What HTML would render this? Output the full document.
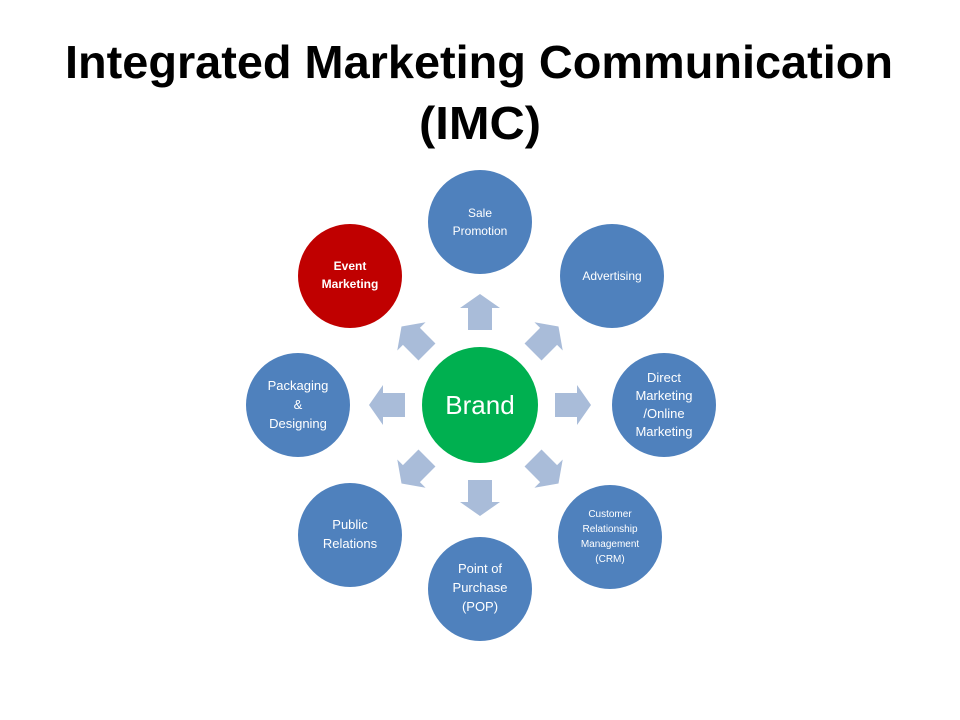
<!DOCTYPE html>
<html><head><meta charset="utf-8"><style>
html,body{margin:0;padding:0;background:#fff;}
svg{display:block;}
text{font-family:"Liberation Sans",sans-serif;}
</style></head><body>
<svg width="960" height="720" viewBox="0 0 960 720" xmlns="http://www.w3.org/2000/svg">
<text x="479" y="78" text-anchor="middle" font-size="46" font-weight="bold" fill="#000" textLength="828" lengthAdjust="spacingAndGlyphs">Integrated Marketing Communication</text>
<text x="480" y="139" text-anchor="middle" font-size="46" font-weight="bold" fill="#000" textLength="122" lengthAdjust="spacingAndGlyphs">(IMC)</text>
<defs>
<polygon id="ar" points="75,-12 97,-12 97,-20 111,0 97,20 97,12 75,12" fill="#a9bcd9"/>
</defs>
<g transform="translate(480,405)">
<use href="#ar" transform="rotate(-90)"/>
<use href="#ar" transform="rotate(-45)"/>
<use href="#ar" transform="rotate(0)"/>
<use href="#ar" transform="rotate(45)"/>
<use href="#ar" transform="rotate(90)"/>
<use href="#ar" transform="rotate(135)"/>
<use href="#ar" transform="rotate(180)"/>
<use href="#ar" transform="rotate(225)"/>
</g>
<circle cx="480" cy="405" r="58" fill="#00b050"/>
<text x="480" y="414" text-anchor="middle" font-size="26" fill="#fff">Brand</text>
<g fill="#4f81bd">
<circle cx="480" cy="222" r="52"/>
<circle cx="612" cy="276" r="52"/>
<circle cx="664" cy="405" r="52"/>
<circle cx="610" cy="537" r="52"/>
<circle cx="480" cy="589" r="52"/>
<circle cx="350" cy="535" r="52"/>
<circle cx="298" cy="405" r="52"/>
</g>
<circle cx="350" cy="276" r="52" fill="#c00000"/>
<g fill="#fff" text-anchor="middle">
<text x="480" y="217" font-size="12">Sale</text>
<text x="480" y="235" font-size="12">Promotion</text>
<text x="612" y="280" font-size="12">Advertising</text>
<text x="664" y="382" font-size="13">Direct</text>
<text x="664" y="400" font-size="13">Marketing</text>
<text x="664" y="418" font-size="13">/Online</text>
<text x="664" y="436" font-size="13">Marketing</text>
<text x="610" y="517" font-size="10">Customer</text>
<text x="610" y="532" font-size="10">Relationship</text>
<text x="610" y="547" font-size="10">Management</text>
<text x="610" y="562" font-size="10">(CRM)</text>
<text x="480" y="573" font-size="13">Point of</text>
<text x="480" y="592" font-size="13">Purchase</text>
<text x="480" y="611" font-size="13">(POP)</text>
<text x="350" y="529" font-size="13">Public</text>
<text x="350" y="548" font-size="13">Relations</text>
<text x="298" y="390" font-size="13">Packaging</text>
<text x="298" y="409" font-size="13">&amp;</text>
<text x="298" y="428" font-size="13">Designing</text>
<text x="350" y="270" font-size="12" font-weight="bold">Event</text>
<text x="350" y="288" font-size="12" font-weight="bold">Marketing</text>
</g>
</svg>
</body></html>
